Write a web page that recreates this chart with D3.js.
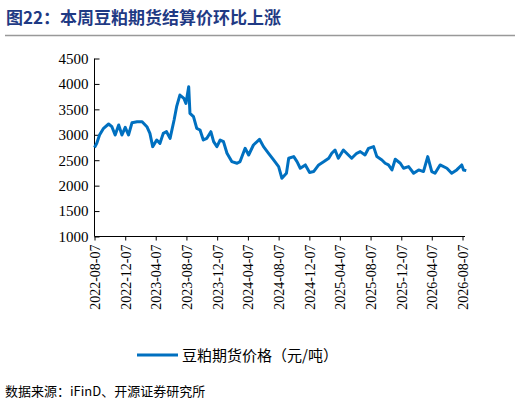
<!DOCTYPE html><html><head><meta charset="utf-8"><script src="https://cdn.jsdelivr.net/npm/d3@7"></script>
<style>body{margin:0;background:#fff}</style></head><body><svg id="c" width="520" height="405"></svg>
<script>
const dates=["2022-08-07","2022-08-16","2022-08-27","2022-09-12","2022-10-02","2022-10-15","2022-10-28","2022-11-11","2022-11-24","2022-12-07","2022-12-20","2023-01-03","2023-01-23","2023-02-12","2023-03-03","2023-03-15","2023-03-26","2023-04-11","2023-04-24","2023-05-07","2023-05-20","2023-06-03","2023-06-19","2023-06-29","2023-07-12","2023-07-28","2023-08-05","2023-08-16","2023-08-21","2023-09-04","2023-09-17","2023-09-30","2023-10-13","2023-10-27","2023-11-12","2023-11-23","2023-12-06","2023-12-19","2024-01-01","2024-01-15","2024-02-03","2024-02-24","2024-03-07","2024-03-27","2024-04-10","2024-04-29","2024-05-23","2024-06-08","2024-06-28","2024-07-18","2024-08-07","2024-08-20","2024-09-07","2024-09-16","2024-10-06","2024-10-19","2024-11-01","2024-11-21","2024-12-08","2024-12-24","2025-01-13","2025-02-03","2025-02-22","2025-03-06","2025-03-19","2025-04-01","2025-04-21","2025-05-04","2025-05-24","2025-06-13","2025-06-27","2025-07-16","2025-07-30","2025-08-19","2025-09-01","2025-09-21","2025-10-04","2025-10-17","2025-10-31","2025-11-13","2025-12-03","2025-12-16","2026-01-05","2026-01-25","2026-02-14","2026-03-05","2026-03-22","2026-04-07","2026-04-20","2026-05-10","2026-06-06","2026-06-25","2026-07-15","2026-08-04","2026-08-11","2026-08-22"];
const prices=[2750,2832,2996,3127,3212,3159,2996,3192,2996,3146,2996,3238,3257,3257,3159,3028,2767,2898,2832,3028,3061,2930,3290,3552,3781,3716,3617,3944,3421,3356,3127,3094,2898,2930,3061,2865,2767,2898,2865,2636,2473,2440,2473,2734,2603,2799,2911,2767,2636,2505,2374,2146,2244,2538,2571,2473,2342,2407,2257,2277,2407,2473,2538,2636,2701,2538,2701,2636,2538,2636,2669,2603,2734,2767,2571,2505,2440,2407,2309,2518,2440,2342,2374,2244,2309,2277,2571,2277,2244,2407,2342,2244,2309,2407,2309,2296];
const tickLabels=["2022-08-07","2022-12-07","2023-04-07","2023-08-07","2023-12-07","2024-04-07","2024-08-07","2024-12-07","2025-04-07","2025-08-07","2025-12-07","2026-04-07","2026-08-07"];
const yTicks=[1000,1500,2000,2500,3000,3500,4000,4500];
const svg=d3.select("#c");
const serif="'Liberation Serif','Times New Roman',serif";
svg.append("text").attr("x",6).attr("y",24).attr("fill","#1f3a84").attr("font-size",17).attr("font-weight","bold").attr("font-family","'Noto Sans CJK SC',sans-serif").text("图22：本周豆粕期货结算价环比上涨");
svg.append("line").attr("x1",5).attr("x2",515).attr("y1",35.5).attr("y2",35.5).attr("stroke","#999").attr("stroke-width",1.5);
const p=d3.timeParse("%Y-%m-%d");
const x=d3.scaleTime().domain([p("2022-08-07"),p("2026-08-07")]).range([94.5,462.5]);
const y=d3.scaleLinear().domain([1000,4500]).range([236.5,58.5]);
const ya=svg.append("g").attr("transform","translate(94.5,0)").call(d3.axisRight(y).tickValues(yTicks).tickSize(5).tickFormat(d3.format("d")));
ya.select(".domain").remove();
svg.append("line").attr("x1",94.5).attr("x2",94.5).attr("y1",58.5).attr("y2",236.5).attr("stroke","#000");
ya.selectAll("text").attr("x",-6).attr("text-anchor","end").attr("font-size",15).attr("font-family",serif).attr("fill","#000");
const xa=svg.append("g").attr("transform","translate(0,236.5)").call(d3.axisBottom(x).tickValues(tickLabels.map(p)).tickSize(4).tickFormat((d,i)=>tickLabels[i]));
xa.select(".domain").attr("d","M94.5,0H465");
xa.selectAll("text").attr("transform","rotate(-90)").attr("x",-8).attr("y",0).attr("dy","0.35em").attr("text-anchor","end").attr("font-size",14).attr("font-family",serif).attr("fill","#000");
const line=d3.line().x((d,i)=>x(p(dates[i]))).y(d=>y(d));
svg.append("path").datum(prices).attr("d",line).attr("fill","none").attr("stroke","#0070c0").attr("stroke-width",3).attr("stroke-linejoin","round");
svg.append("line").attr("x1",137).attr("x2",178).attr("y1",355).attr("y2",355).attr("stroke","#0070c0").attr("stroke-width",3);
svg.append("text").attr("x",182).attr("y",361).attr("font-size",15).attr("font-family","'Noto Sans CJK SC',sans-serif").text("豆粕期货价格（元/吨）");
svg.append("text").attr("x",5).attr("y",396).attr("font-size",13).attr("font-family","'Noto Sans CJK SC',sans-serif").text("数据来源：iFinD、开源证券研究所");
</script></body></html>
